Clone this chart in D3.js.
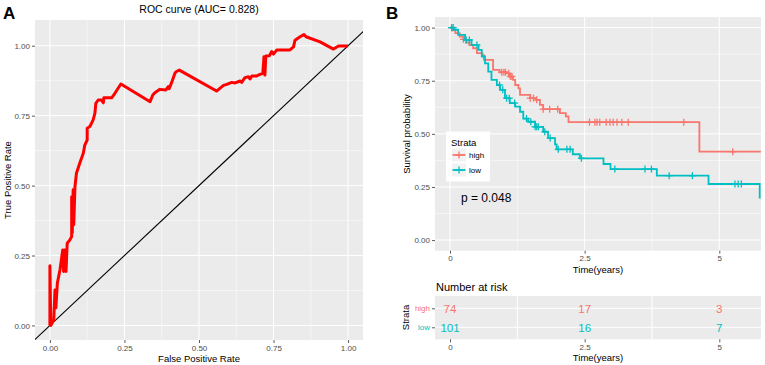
<!DOCTYPE html>
<html>
<head>
<meta charset="utf-8">
<script src="https://cdn.jsdelivr.net/npm/d3@7"></script>
<style>
  body { margin: 0; background: #fff; }
  svg text { font-family: "Liberation Sans", Arial, sans-serif; }
</style>
</head>
<body>
<svg id="fig" width="765" height="365"></svg>
<script>
// ROC curve points (false positive rate, true positive rate)
const rocFpr = [0, 0, 0.003, 0.013, 0.017, 0.02, 0.025, 0.034, 0.043, 0.046, 0.05, 0.054, 0.058, 0.067, 0.073, 0.073, 0.075, 0.078, 0.08, 0.084, 0.089, 0.1, 0.112, 0.117, 0.125, 0.125, 0.134, 0.145, 0.151, 0.154, 0.162, 0.173, 0.179, 0.181, 0.207, 0.218, 0.238, 0.336, 0.345, 0.352, 0.369, 0.389, 0.397, 0.4, 0.408, 0.419, 0.423, 0.434, 0.559, 0.582, 0.593, 0.61, 0.621, 0.638, 0.643, 0.654, 0.666, 0.671, 0.677, 0.694, 0.705, 0.714, 0.718, 0.721, 0.724, 0.736, 0.744, 0.75, 0.761, 0.805, 0.817, 0.822, 0.839, 0.852, 0.859, 0.906, 0.951, 0.968, 1.0];
const rocTpr = [0, 0.213, 0, 0.02, 0.127, 0.063, 0.152, 0.2, 0.27, 0.193, 0.27, 0.193, 0.294, 0.306, 0.318, 0.46, 0.33, 0.485, 0.36, 0.496, 0.544, 0.58, 0.616, 0.645, 0.663, 0.705, 0.711, 0.735, 0.759, 0.794, 0.806, 0.806, 0.796, 0.814, 0.814, 0.83, 0.863, 0.8, 0.824, 0.832, 0.844, 0.842, 0.854, 0.846, 0.868, 0.901, 0.907, 0.913, 0.838, 0.858, 0.862, 0.869, 0.867, 0.874, 0.869, 0.886, 0.889, 0.881, 0.892, 0.892, 0.898, 0.901, 0.961, 0.895, 0.963, 0.964, 0.979, 0.97, 0.985, 0.985, 0.996, 1.02, 1.032, 1.04, 1.032, 1.014, 0.988, 0.999, 0.999];
const rocTicks = [0, 0.25, 0.5, 0.75, 1];

// Kaplan-Meier steps
const highTime = [0, 0.04, 0.1, 0.18, 0.25, 0.3, 0.36, 0.43, 0.5, 0.6, 0.63, 0.8, 0.92, 1.05, 1.1, 1.17, 1.21, 1.27, 1.3, 1.49, 1.6, 1.67, 1.73, 2.04, 2.15, 2.2, 4.63, 5.77];
const highSurv = [1, 0.987, 0.974, 0.958, 0.945, 0.93, 0.918, 0.903, 0.88, 0.87, 0.848, 0.801, 0.79, 0.785, 0.77, 0.754, 0.73, 0.714, 0.683, 0.668, 0.66, 0.636, 0.616, 0.598, 0.582, 0.555, 0.416, 0.416];
const lowTime = [0, 0.08, 0.15, 0.28, 0.4, 0.53, 0.59, 0.65, 0.71, 0.77, 0.87, 0.93, 1.02, 1.11, 1.21, 1.3, 1.36, 1.45, 1.58, 1.73, 1.82, 1.95, 1.98, 2.28, 2.41, 2.85, 2.98, 3.84, 4.8, 5.75];
const lowSurv = [1, 0.99, 0.966, 0.942, 0.918, 0.895, 0.864, 0.832, 0.793, 0.754, 0.73, 0.707, 0.668, 0.645, 0.628, 0.604, 0.572, 0.557, 0.533, 0.51, 0.48, 0.45, 0.427, 0.404, 0.385, 0.358, 0.334, 0.303, 0.264, 0.196];
const highCensor = [0.03, 0.25, 0.96, 1.0, 1.03, 1.09, 1.12, 1.15, 1.49, 1.55, 1.61, 1.73, 1.85, 2.0, 2.59, 2.69, 2.73, 2.78, 2.9, 2.97, 3.03, 3.1, 3.19, 3.31, 4.34, 5.25];
const lowCensor = [0.03, 0.06, 0.3, 0.36, 0.5, 0.92, 0.98, 1.05, 1.1, 1.2, 1.42, 1.5, 1.58, 1.61, 1.64, 1.76, 1.86, 2.01, 2.17, 2.23, 2.44, 3.06, 3.62, 3.74, 4.07, 4.5, 5.29, 5.35, 5.41];
const survTicks = [0, 0.25, 0.5, 0.75, 1];
const timeTicks = [0, 2.5, 5];

// Number at risk
const strata = ["high", "low"];
const riskHigh = [74, 17, 3];
const riskLow = [101, 16, 7];

const colHigh = "#F8766D", colLow = "#00BFC4";
const svg = d3.select("#fig");
const panelBg = "#EBEBEB", tickCol = "#4D4D4D";

function grid(g, x, y, xs, ys, xm, ym) {
  g.selectAll(null).data(xm).join("line").attr("x1", x).attr("x2", x)
    .attr("y1", y.range()[0]).attr("y2", y.range()[1]).attr("stroke", "#fff").attr("stroke-width", 0.5);
  g.selectAll(null).data(ym).join("line").attr("y1", y).attr("y2", y)
    .attr("x1", x.range()[0]).attr("x2", x.range()[1]).attr("stroke", "#fff").attr("stroke-width", 0.5);
  g.selectAll(null).data(xs).join("line").attr("x1", x).attr("x2", x)
    .attr("y1", y.range()[0]).attr("y2", y.range()[1]).attr("stroke", "#fff").attr("stroke-width", 1);
  g.selectAll(null).data(ys).join("line").attr("y1", y).attr("y2", y)
    .attr("x1", x.range()[0]).attr("x2", x.range()[1]).attr("stroke", "#fff").attr("stroke-width", 1);
}

function styleAxis(g, size) {
  g.select(".domain").remove();
  g.selectAll(".tick line").attr("stroke", "#333").attr("stroke-width", 0.8);
  g.selectAll(".tick text").attr("fill", tickCol).attr("font-size", size || 8);
}

function panel(x, y) {
  svg.append("rect").attr("x", x.range()[0]).attr("y", y.range()[1])
    .attr("width", x.range()[1] - x.range()[0]).attr("height", y.range()[0] - y.range()[1])
    .attr("fill", panelBg);
}

// ---------------- Panel A: ROC ----------------
const xR = d3.scaleLinear().domain([-0.05, 1.05]).range([35, 363]);
const yR = d3.scaleLinear().domain([-0.052, 1.092]).range([340, 20]);
panel(xR, yR);
grid(svg.append("g"), xR, yR, rocTicks, rocTicks,
  [0.125, 0.375, 0.625, 0.875], [0.125, 0.375, 0.625, 0.875, 1.125].filter(v => v < 1.09));

const clipA = svg.append("clipPath").attr("id", "clipA").append("rect")
  .attr("x", 35).attr("y", 20).attr("width", 328).attr("height", 320);
svg.append("line").attr("clip-path", "url(#clipA)")
  .attr("x1", xR(-0.06)).attr("y1", yR(-0.06)).attr("x2", xR(1.1)).attr("y2", yR(1.1))
  .attr("stroke", "#000").attr("stroke-width", 1.1);
svg.append("path").datum(d3.range(rocFpr.length))
  .attr("d", d3.line().x(i => xR(rocFpr[i])).y(i => yR(rocTpr[i])))
  .attr("fill", "none").attr("stroke", "#FF0000").attr("stroke-width", 3).attr("stroke-linejoin", "round");

svg.append("g").attr("transform", "translate(0,340)")
  .call(d3.axisBottom(xR).tickValues(rocTicks).tickFormat(d3.format(".2f")).tickSize(3).tickPadding(2))
  .call(styleAxis);
svg.append("g").attr("transform", "translate(35,0)")
  .call(d3.axisLeft(yR).tickValues(rocTicks).tickFormat(d3.format(".2f")).tickSize(3).tickPadding(2))
  .call(styleAxis);

svg.append("text").attr("x", 199).attr("y", 13).attr("text-anchor", "middle")
  .attr("font-size", 10.5).text("ROC curve (AUC= 0.828)");
svg.append("text").attr("x", 199).attr("y", 362).attr("text-anchor", "middle")
  .attr("font-size", 9.5).text("False Positive Rate");
svg.append("text").attr("transform", "translate(11,180) rotate(-90)").attr("text-anchor", "middle")
  .attr("font-size", 9.5).text("True Positive Rate");
svg.append("text").attr("x", 3).attr("y", 19).attr("font-size", 17).attr("font-weight", "bold").text("A");

// ---------------- Panel B: survival ----------------
const xS = d3.scaleLinear().domain([-0.2785, 5.774]).range([435, 761]);
const yS = d3.scaleLinear().domain([-0.05, 1.05]).range([250.7, 17]);
panel(xS, yS);
grid(svg.append("g"), xS, yS, timeTicks, survTicks, [1.25, 3.75], [0.125, 0.375, 0.625, 0.875]);

function stepAt(times, surv, t) {
  let i = d3.bisectRight(times, t) - 1;
  return surv[Math.max(0, i)];
}

const kmLine = d3.line().curve(d3.curveStepAfter);
[[highTime, highSurv, highCensor, colHigh], [lowTime, lowSurv, lowCensor, colLow]].forEach(([t, s, c, col]) => {
  svg.append("path").datum(t.map((v, i) => [xS(v), yS(s[i])]))
    .attr("d", kmLine).attr("fill", "none").attr("stroke", col).attr("stroke-width", 1.8);
  const m = svg.append("g").attr("stroke", col).attr("stroke-width", 1.3);
  c.forEach(v => {
    const px = xS(v), py = yS(stepAt(t, s, v));
    m.append("line").attr("x1", px - 3.5).attr("x2", px + 3.5).attr("y1", py).attr("y2", py);
    m.append("line").attr("x1", px).attr("x2", px).attr("y1", py - 3.5).attr("y2", py + 3.5);
  });
});

svg.append("g").attr("transform", "translate(0,250.7)")
  .call(d3.axisBottom(xS).tickValues(timeTicks).tickFormat(d3.format("")).tickSize(3).tickPadding(2))
  .call(styleAxis);
svg.append("g").attr("transform", "translate(435,0)")
  .call(d3.axisLeft(yS).tickValues(survTicks).tickFormat(d3.format(".2f")).tickSize(3).tickPadding(2))
  .call(styleAxis);

svg.append("text").attr("x", 598).attr("y", 273).attr("text-anchor", "middle")
  .attr("font-size", 9.5).text("Time(years)");
svg.append("text").attr("transform", "translate(410,134) rotate(-90)").attr("text-anchor", "middle")
  .attr("font-size", 9.5).text("Survival probability");
svg.append("text").attr("x", 386).attr("y", 19).attr("font-size", 17).attr("font-weight", "bold").text("B");
svg.append("text").attr("x", 461).attr("y", 202).attr("font-size", 12).text("p = 0.048");

// legend
const lg = svg.append("g").attr("transform", "translate(446,131.5)");
lg.append("rect").attr("width", 44).attr("height", 50).attr("fill", "#fff");
lg.append("text").attr("x", 5).attr("y", 14).attr("font-size", 9.5).text("Strata");
[[colHigh, "high"], [colLow, "low"]].forEach(([col, name], i) => {
  const yy = 23.5 + i * 15;
  const k = lg.append("g").attr("transform", `translate(6,${yy - 6.5})`);
  k.append("rect").attr("width", 14).attr("height", 13).attr("fill", "#F2F2F2");
  k.append("line").attr("x1", 0.5).attr("x2", 13.5).attr("y1", 6.5).attr("y2", 6.5).attr("stroke", col).attr("stroke-width", 1.8);
  k.append("line").attr("x1", 3.5).attr("x2", 10.5).attr("y1", 6.5).attr("y2", 6.5).attr("stroke", col).attr("stroke-width", 1.3);
  k.append("line").attr("x1", 7).attr("x2", 7).attr("y1", 3).attr("y2", 10).attr("stroke", col).attr("stroke-width", 1.3);
  lg.append("text").attr("x", 23).attr("y", yy + 3).attr("font-size", 8).text(name);
});

// ---------------- Risk table ----------------
const yT = d3.scalePoint().domain(strata).range([308.3, 327.3]);
const xT = xS.copy();
svg.append("rect").attr("x", 435).attr("y", 296).attr("width", 326).attr("height", 43.3).attr("fill", panelBg);
const tg = svg.append("g");
tg.selectAll(null).data([1.25, 3.75]).join("line").attr("x1", xT).attr("x2", xT)
  .attr("y1", 296).attr("y2", 339.3).attr("stroke", "#fff").attr("stroke-width", 1);
tg.selectAll(null).data(strata).join("line").attr("y1", yT).attr("y2", yT)
  .attr("x1", 435).attr("x2", 761).attr("stroke", "#fff").attr("stroke-width", 1);
[[riskHigh, "high", colHigh], [riskLow, "low", colLow]].forEach(([vals, s, col]) => {
  svg.append("g").selectAll("text").data(vals).join("text")
    .attr("x", (d, i) => xT(timeTicks[i])).attr("y", yT(s) + 4.2)
    .attr("text-anchor", "middle").attr("font-size", 11.5).attr("fill", col).text(d => d);
});
svg.append("g").attr("transform", "translate(0,339.3)")
  .call(d3.axisBottom(xT).tickValues(timeTicks).tickFormat(d3.format("")).tickSize(3).tickPadding(2))
  .call(styleAxis);
const ay = svg.append("g").attr("transform", "translate(435,0)")
  .call(d3.axisLeft(yT).tickSize(3).tickPadding(2))
  .call(styleAxis);
ay.selectAll(".tick text").attr("fill", d => d === "high" ? colHigh : colLow);

svg.append("text").attr("x", 436).attr("y", 291).attr("font-size", 11).text("Number at risk");
svg.append("text").attr("x", 598).attr("y", 361).attr("text-anchor", "middle")
  .attr("font-size", 9.5).text("Time(years)");
svg.append("text").attr("transform", "translate(409,317.5) rotate(-90)").attr("text-anchor", "middle")
  .attr("font-size", 9.5).text("Strata");
</script>
</body>
</html>
